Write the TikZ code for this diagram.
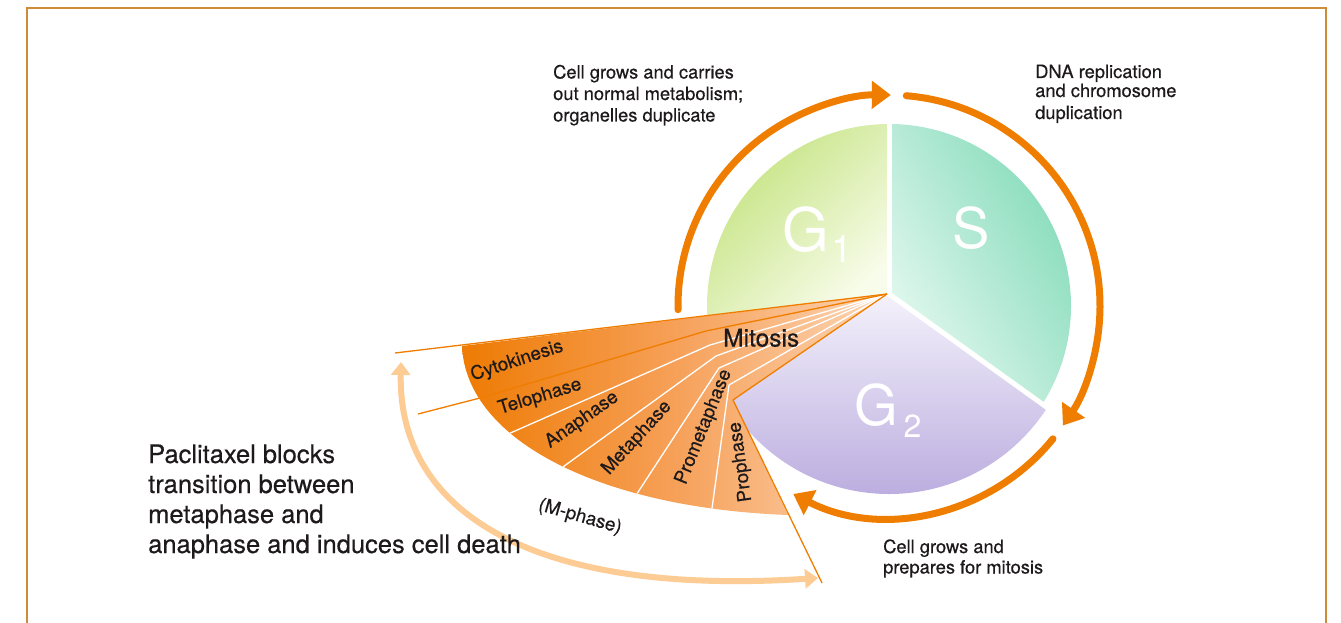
\documentclass[tikz,border=0pt]{standalone}
\usepackage{fontspec}
\setmainfont{TeX Gyre Heros}
\newfontfamily\labfont{TeX Gyre Heros}[FakeBold=0.45]
\usetikzlibrary{arrows.meta,calc}
\definecolor{frameC}{HTML}{CF8B3A}
\definecolor{cyc}{HTML}{EF7D00}
\definecolor{mphc}{HTML}{FDCB94}
\definecolor{g1a}{HTML}{C2E27C}
\definecolor{g1b}{HTML}{F8FCEA}
\definecolor{sa}{HTML}{84DBBA}
\definecolor{sb}{HTML}{E6F9F1}
\definecolor{g2a}{HTML}{F4F1FB}
\definecolor{g2b}{HTML}{BBADDF}
\definecolor{fanA}{HTML}{EE7B03}
\definecolor{fanB}{HTML}{F6A058}
\definecolor{fanC}{HTML}{FCD6B6}
\definecolor{txt}{HTML}{1E1A1B}
\begin{document}
\begin{tikzpicture}[x=1pt,y=-1pt,
  lab/.style={anchor=base west, inner sep=0pt, text=txt, font=\labfont\fontsize{18.3}{22}\selectfont},
  bigtxt/.style={anchor=base west, inner sep=0pt, text=txt, font=\labfont\fontsize{25.5}{30}\selectfont},
  phase/.style={inner sep=0pt, text=txt, font=\labfont\fontsize{18.8}{20}\selectfont},
  pielab/.style={inner sep=0pt, text=white},
  cycarrow/.style={draw=cyc, line width=7pt, line cap=round, -{Triangle[length=19pt,width=27pt]}},
  mpharrow/.style={draw=mphc, line width=6pt, {Triangle[length=13pt,width=19pt]}-{Triangle[length=13pt,width=19pt]}},
  thinor/.style={draw=cyc, line width=1.3pt, line join=round},
  whitesep/.style={draw=white, line width=1.3pt, line join=round},
  gap/.style={draw=white, line width=5pt}
]
\useasboundingbox (0,0) rectangle (1341,623);
% frame
\draw[frameC, line width=1.8pt] (27,623) -- (27,8) -- (1326,8) -- (1326,623);

\coordinate (P) at (887,294);
\coordinate (O) at (889,306);

% pie sectors
\shade[top color=g1a, bottom color=g1b, shading angle=45]
  (889,294) -- (889,124) arc[start angle=-90, end angle=-183, radius=182] -- cycle;
\shade[top color=sa, bottom color=sb, shading angle=-60]
  (889,294) -- (889,124) arc[start angle=-90, end angle=33, radius=182] -- cycle;
\shade[top color=g2a, bottom color=g2b]
  (889,294) -- (1046.7,408.4) arc[start angle=33, end angle=140, radius=188] -- (733,400) -- cycle;
\draw[gap] (889,296) -- (889,110);
\draw[gap] (889,294) -- (1052,411);

% mitosis fan
\shade[left color=fanA, right color=fanC, middle color=fanB]
  (P) -- (462,346) .. controls (466,440) and (600,508) .. (788,515) -- (733,400) -- cycle;
\begin{scope}
  \clip (P) -- (462,346) .. controls (466,440) and (600,508) .. (788,515) -- (733,400) -- cycle;
  \draw[whitesep] (P) -- (710,345) -- (490,442);
  \draw[whitesep] (P) -- (716,356) -- (549,477);
  \draw[whitesep] (P) -- (719,368) -- (627,509);
  \draw[whitesep] (P) -- (729,385) -- (709,530);
\end{scope}
\coordinate (b0) at (395,353);
\coordinate (b1) at (418,414);
\coordinate (b6) at (822,583);
\draw[thinor] (b0) -- (P);
\draw[thinor] (b1) -- (480,398) -- (706,331) -- (P);
\draw[thinor] (P) -- (733,400) -- (b6);

% cycle arrows
\draw[cycarrow] (O) ++(179:211) arc[start angle=179, end angle=270.5, radius=211];
\draw[cycarrow] (O) ++(274.7:211) arc[start angle=274.7, end angle=394.5, radius=211];
\draw[cycarrow] (O) ++(39:211) arc[start angle=39, end angle=117, radius=211];

% M-phase arrow
\draw[mpharrow] (401,362) .. controls (398,508) and (525,597) .. (818,578);

% pie labels
\node[pielab, font=\fontsize{60}{60}\selectfont] (G1) at (806,230) {G};
\node[pielab, font=\fontsize{38}{38}\selectfont] (G1s) at (842,249) {1};
\node[pielab, font=\fontsize{56}{56}\selectfont] (S) at (971.5,228) {S};
\node[pielab, font=\fontsize{56}{56}\selectfont] (G2) at (876.5,405) {G};
\node[pielab, font=\fontsize{32}{32}\selectfont] (G2s) at (912.5,426.5) {2};

% mitosis labels
\node[anchor=base west, inner sep=0pt, text=txt, font=\labfont\fontsize{24.5}{25}\selectfont] (mit) at (723,346.5) {Mitosis};
\node[phase, rotate=18] (cyto) at (517,361) {Cytokinesis};
\node[phase, rotate=17] (telo) at (540,397) {Telophase};
\node[phase, rotate=35] (ana) at (582,420) {Anaphase};
\node[phase, rotate=47.5] (meta) at (637,438) {Metaphase};
\node[phase, rotate=68] (prometa) at (704,427) {Prometaphase};
\node[phase, rotate=98] (pro) at (741,462) {Prophase};
\node[phase, rotate=-16] (mph) at (580,517) {(M-phase)};

% annotations
\node[lab] (t1a) at (553,78.5) {Cell grows and carries};
\node[lab] (t1b) at (553,100) {out normal metabolism;};
\node[lab] (t1c) at (553,121.5) {organelles duplicate};
\node[lab] (t2a) at (1035,78) {DNA replication};
\node[lab] (t2b) at (1035,97) {and chromosome};
\node[lab] (t2c) at (1035,119) {duplication};
\node[lab] (t3a) at (883,553) {Cell grows and};
\node[lab] (t3b) at (883,573.5) {prepares for mitosis};
\node[bigtxt] (p1) at (148,463) {Paclitaxel blocks};
\node[bigtxt] (p2) at (148,493) {transition between};
\node[bigtxt] (p3) at (148,523) {metaphase and};
\node[bigtxt] (p4) at (148,553) {anaphase and induces cell death};
\end{tikzpicture}
\end{document}
